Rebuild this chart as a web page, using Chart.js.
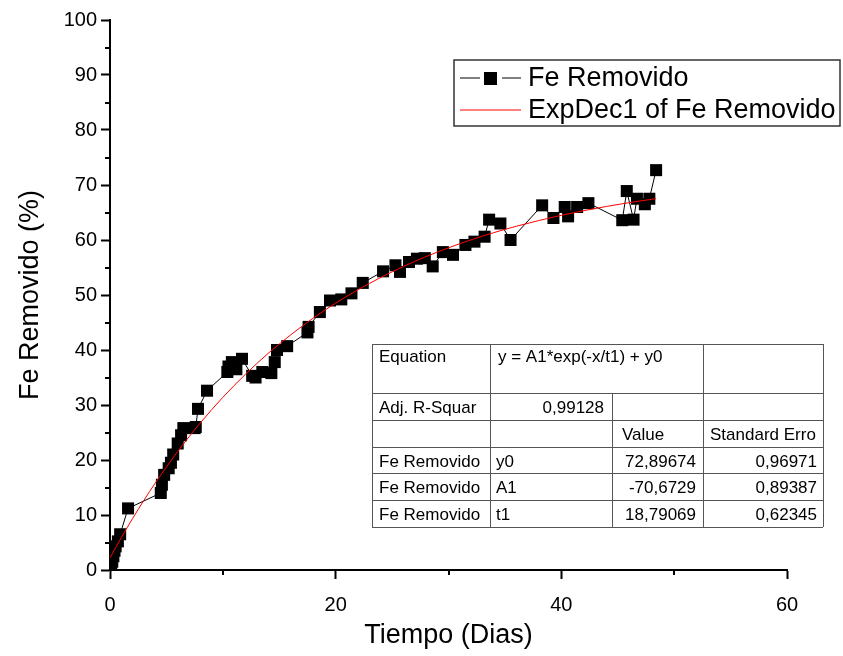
<!DOCTYPE html>
<html>
<head>
<meta charset="utf-8">
<script src="https://cdn.jsdelivr.net/npm/chart.js@4/dist/chart.umd.min.js"></script>
<style>
  html, body { margin: 0; padding: 0; background: #fff; }
  #wrap { width: 843px; height: 656px; position: relative; }
</style>
</head>
<body>
<div id="wrap"><canvas id="c" width="843" height="656"></canvas></div>
<script>
// ---- data ----
const days = [0.1, 0.2, 0.3, 0.4, 0.5, 0.7, 0.9, 1.6, 4.5, 4.6, 4.8, 5.2, 5.4, 5.6, 6.0, 6.3, 6.5, 7.5, 7.6, 7.8,
  8.6, 10.4, 10.5, 10.8, 11.2, 11.7, 12.6, 12.9, 13.5, 14.3, 14.6, 14.8, 15.7, 17.5, 17.6, 18.6, 19.5, 20.5,
  21.4, 22.4, 24.2, 25.3, 25.7, 26.5, 27.2, 27.9, 28.6, 29.5, 30.4, 31.5, 32.3, 33.2, 33.6, 34.6, 35.5, 38.3,
  39.3, 40.3, 40.6, 41.4, 42.4, 45.4, 45.8, 46.4, 46.7, 47.4, 47.8, 48.4];
const feRemovido = [0.5, 1.5, 2.5, 3.5, 4.3, 5.2, 6.5, 11.2, 14.0, 15.5, 17.3, 18.5, 19.5, 21.0, 23.0, 24.5, 25.8, 25.8, 26.0, 29.3,
  32.6, 36.0, 37.0, 37.8, 36.5, 38.4, 35.3, 35.0, 36.0, 35.8, 37.8, 40.0, 40.7, 43.2, 44.2, 46.9, 49.0, 49.2,
  50.3, 52.2, 54.3, 55.4, 54.2, 56.0, 56.6, 56.7, 55.2, 57.8, 57.3, 59.1, 59.7, 60.6, 63.7, 63.0, 60.0, 66.3,
  64.0, 66.0, 64.3, 66.0, 66.7, 63.6, 68.9, 63.7, 67.5, 66.5, 67.5, 72.7];
// ExpDec1 fitted curve
const fitDays = [0, 1, 2, 3, 4, 6, 8, 10, 12, 14, 16, 18, 20, 22, 24, 26, 28, 30, 32, 34, 36, 38, 40, 42, 44, 46, 48, 48.4];
const fitValues = [2.22, 5.87, 9.36, 12.65, 15.78, 21.54, 26.73, 31.39, 35.58, 39.35, 42.73, 45.78, 48.52, 50.98, 53.19, 55.18,
  56.97, 58.58, 60.03, 61.33, 62.49, 63.54, 64.49, 65.34, 66.10, 66.79, 67.40, 67.52];
const xTicksMinor = [10, 30, 50];
const yTicksMinor = [5, 15, 25, 35, 45, 55, 65, 75, 85, 95];
const seriesNames = ['Fe Removido', 'ExpDec1 of Fe Removido'];
const tableRows = [
  ['Equation', 'y = A1*exp(-x/t1) + y0', '', ''],
  ['Adj. R-Squar', '0,99128', '', ''],
  ['', '', 'Value', 'Standard Erro'],
  ['Fe Removido', 'y0', '72,89674', '0,96971'],
  ['Fe Removido', 'A1', '-70,6729', '0,89387'],
  ['Fe Removido', 't1', '18,79069', '0,62345']
];

const FONT = "'Liberation Sans', Arial, sans-serif";

const extras = {
  id: 'extras',
  afterDraw(chart) {
    const ctx = chart.ctx;
    const xs = chart.scales.x, ys = chart.scales.y;
    const area = chart.chartArea;
    ctx.save();
    // minor ticks
    ctx.strokeStyle = '#000';
    ctx.lineWidth = 2;
    ctx.beginPath();
    xTicksMinor.forEach(v => {
      const px = Math.round(xs.getPixelForValue(v));
      ctx.moveTo(px, area.bottom); ctx.lineTo(px, area.bottom + 5);
    });
    yTicksMinor.forEach(v => {
      const py = Math.round(ys.getPixelForValue(v));
      ctx.moveTo(area.left, py); ctx.lineTo(area.left - 5, py);
    });
    ctx.stroke();

    // legend
    ctx.lineWidth = 1.5;
    ctx.strokeStyle = '#333';
    ctx.strokeRect(454, 60, 386, 66);
    ctx.lineWidth = 1;
    ctx.strokeStyle = '#000';
    ctx.beginPath();
    ctx.moveTo(460, 78); ctx.lineTo(480, 78);
    ctx.moveTo(502, 78); ctx.lineTo(521, 78);
    ctx.stroke();
    ctx.fillStyle = '#000';
    ctx.fillRect(484, 72, 13, 13);
    ctx.strokeStyle = '#ff0000';
    ctx.beginPath(); ctx.moveTo(460, 110); ctx.lineTo(521, 110); ctx.stroke();
    ctx.font = '27px ' + FONT;
    ctx.textBaseline = 'middle';
    ctx.textAlign = 'left';
    ctx.fillStyle = '#000';
    ctx.fillText(seriesNames[0], 528, 79);
    ctx.fillText(seriesNames[1], 528, 111);

    // parameter table
    const colX = [372, 490, 612, 703, 823];
    const rowY = [344, 393, 420, 447, 473, 500, 527];
    ctx.strokeStyle = '#555';
    ctx.lineWidth = 1;
    ctx.beginPath();
    rowY.forEach(y => { ctx.moveTo(colX[0], y + 0.5); ctx.lineTo(colX[4], y + 0.5); });
    colX.forEach((x, i) => {
      if (i === 2) { ctx.moveTo(x + 0.5, rowY[1]); ctx.lineTo(x + 0.5, rowY[6]); }
      else { ctx.moveTo(x + 0.5, rowY[0]); ctx.lineTo(x + 0.5, rowY[6]); }
    });
    ctx.stroke();
    ctx.font = '17px ' + FONT;
    ctx.fillStyle = '#000';
    ctx.textBaseline = 'alphabetic';
    // row 0
    ctx.textAlign = 'left';
    ctx.fillText(tableRows[0][0], 379, 362);
    ctx.fillText(tableRows[0][1], 498, 362);
    // row 1
    ctx.fillText(tableRows[1][0], 379, 413);
    ctx.textAlign = 'right';
    ctx.fillText(tableRows[1][1], 604, 413);
    // row 2
    ctx.textAlign = 'left';
    ctx.fillText(tableRows[2][2], 622, 440);
    ctx.fillText(tableRows[2][3], 710, 440);
    for (let r = 3; r < 6; r++) {
      const by = rowY[r] + 20;
      ctx.textAlign = 'left';
      ctx.fillText(tableRows[r][0], 379, by);
      ctx.fillText(tableRows[r][1], 496, by);
      ctx.textAlign = 'right';
      ctx.fillText(tableRows[r][2], 696, by);
      ctx.fillText(tableRows[r][3], 817, by);
    }
    ctx.restore();
  }
};

new Chart(document.getElementById('c'), {
  type: 'scatter',
  data: {
    datasets: [
      {
        label: seriesNames[1],
        data: fitDays.map((d, i) => ({ x: d, y: fitValues[i] })),
        showLine: true,
        borderColor: '#ff0000',
        borderWidth: 1,
        pointRadius: 0,
        cubicInterpolationMode: 'monotone',
        order: 0
      },
      {
        label: seriesNames[0],
        data: days.map((d, i) => ({ x: d, y: feRemovido[i] })),
        showLine: true,
        borderColor: '#000',
        borderWidth: 1,
        backgroundColor: '#000',
        pointStyle: 'rect',
        pointRadius: 8.5,
        pointBorderWidth: 0,
        order: 1
      }
    ]
  },
  options: {
    responsive: false,
    animation: false,
    events: [],
    layout: { padding: { left: 0, right: 56, top: 20, bottom: 0 } },
    plugins: { legend: { display: false }, tooltip: { enabled: false } },
    scales: {
      x: {
        type: 'linear', min: 0, max: 60,
        afterFit(s) { s.height = 86; },
        ticks: { stepSize: 20, color: '#000', font: { family: FONT, size: 20 }, padding: 14, maxRotation: 0 },
        grid: { drawOnChartArea: false, tickLength: 9, tickWidth: 2, tickColor: '#000' },
        border: { display: true, color: '#000', width: 2 },
        title: { display: true, text: 'Tiempo (Dias)', color: '#000', font: { family: FONT, size: 27 }, padding: { top: 0, bottom: 4 } }
      },
      y: {
        min: 0, max: 100,
        afterFit(s) { s.width = 110; },
        ticks: { stepSize: 10, color: '#000', font: { family: FONT, size: 20 }, padding: 4 },
        grid: { drawOnChartArea: false, tickLength: 9, tickWidth: 2, tickColor: '#000' },
        border: { display: true, color: '#000', width: 2 },
        title: { display: true, text: 'Fe Removido (%)', color: '#000', font: { family: FONT, size: 27 }, padding: { top: 14, bottom: 0 } }
      }
    }
  },
  plugins: [extras]
});
</script>
</body>
</html>
